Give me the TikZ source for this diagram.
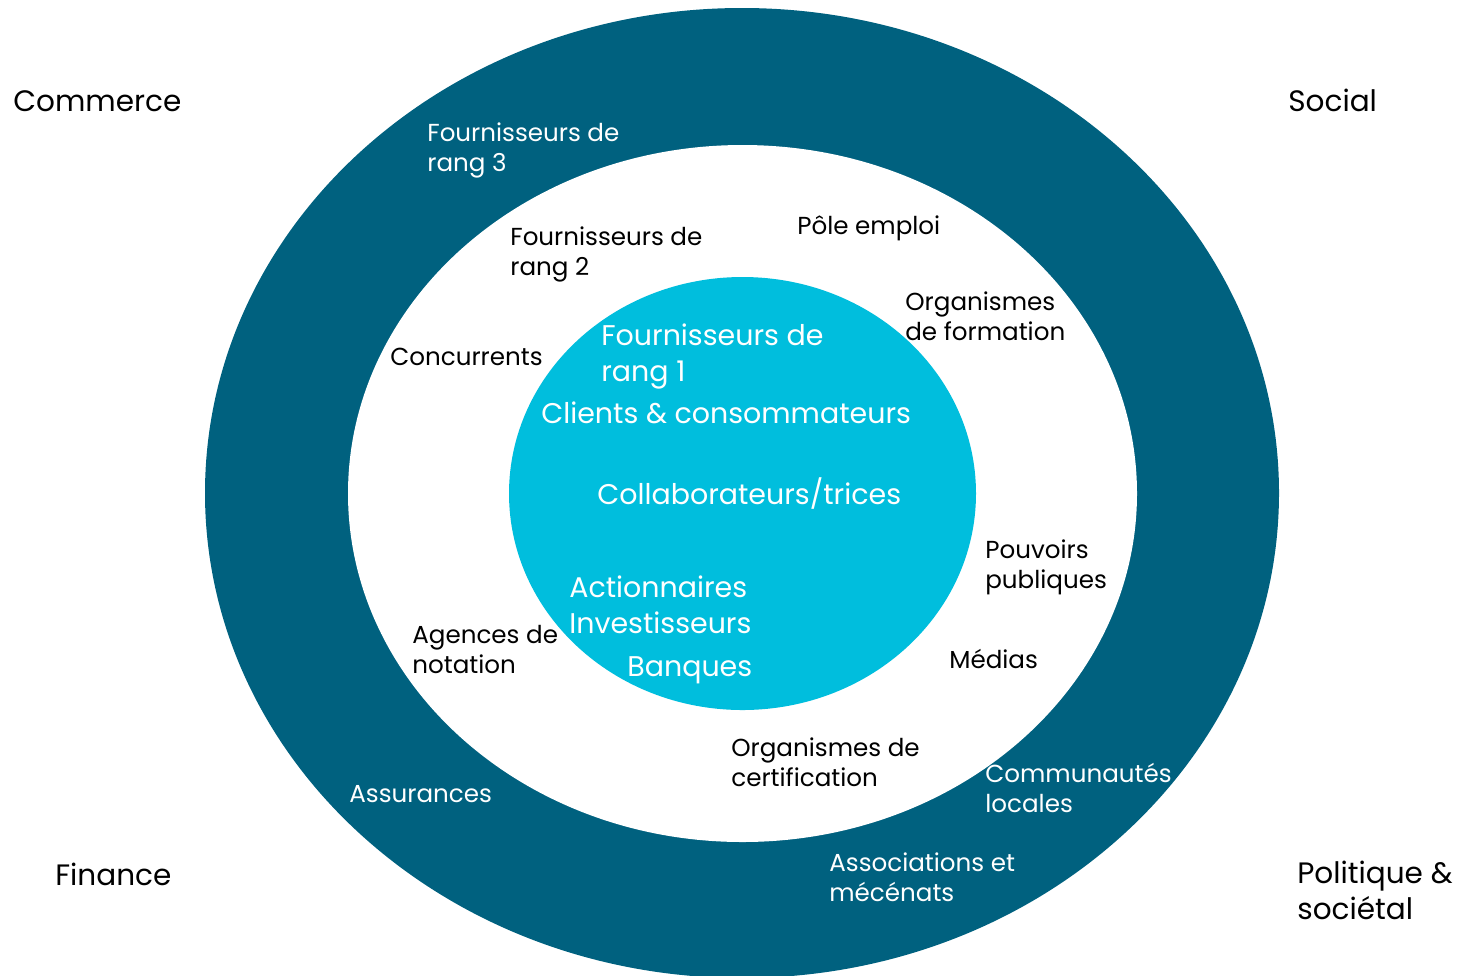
\documentclass[tikz,border=0pt]{standalone}
\usepackage{fontspec}
\setmainfont{Poppins}
\usepackage{xcolor}
\usetikzlibrary{positioning}
\definecolor{ringdark}{HTML}{00617F}
\definecolor{corecyan}{HTML}{00BEDD}

\begin{document}
\begin{tikzpicture}[x=0.02cm, y=-0.02cm,
  lbl/.style={anchor=base west, inner sep=0pt, align=left, font=\fontsize{14}{17}\selectfont},
  wlbl/.style={lbl, text=white},
  core/.style={anchor=base west, inner sep=0pt, align=left, text=white, font=\fontsize{16.2}{20}\selectfont},
  corner/.style={anchor=base west, inner sep=0pt, align=left, font=\fontsize{16.8}{20}\selectfont}]
  \useasboundingbox (0,0) rectangle (1470,975);

  % rings
  \fill[ringdark] (742,493) ellipse [x radius=537, y radius=485];
  \fill[white] (742.5,493.5) ellipse [x radius=394.5, y radius=348.5];
  \fill[corecyan] (742.5,493.5) ellipse [x radius=233.5, y radius=216.5];

  % corner themes (base = last line)
  \node[corner] (commerce) at (13,111) {Commerce};
  \node[corner] (social) at (1288,111) {Social};
  \node[corner] (finance) at (55,885) {Finance};
  \node[corner] (politique) at (1297,919) {Politique \&\\sociétal};

  % outer ring
  \node[wlbl] (rang3) at (427,171) {Fournisseurs de\\rang 3};
  \node[wlbl] (assur) at (349,802) {Assurances};
  \node[wlbl] (commu) at (985,812) {Communautés\\locales};
  \node[wlbl] (assoc) at (829,901) {Associations et\\mécénats};

  % middle ring
  \node[lbl] (rang2) at (510,275) {Fournisseurs de\\rang 2};
  \node[lbl] (pole) at (797,234) {Pôle emploi};
  \node[lbl] (formation) at (905,340) {Organismes\\de formation};
  \node[lbl] (concur) at (390,365) {Concurrents};
  \node[lbl] (agences) at (412,673) {Agences de\\notation};
  \node[lbl] (pouvoirs) at (985,588) {Pouvoirs\\publiques};
  \node[lbl] (medias) at (949,668) {Médias};
  \node[lbl] (certif) at (731,786) {Organismes de\\certification};

  % core
  \node[core] (rang1) at (601,381) {Fournisseurs de\\rang 1};
  \node[core] (clients) at (541,423) {Clients \& consommateurs};
  \node[core] (collab) at (597,504) {Collaborateurs/trices};
  \node[core] (action) at (569,633) {Actionnaires\\Investisseurs};
  \node[core] (banques) at (627,676) {Banques};
\end{tikzpicture}
\end{document}
